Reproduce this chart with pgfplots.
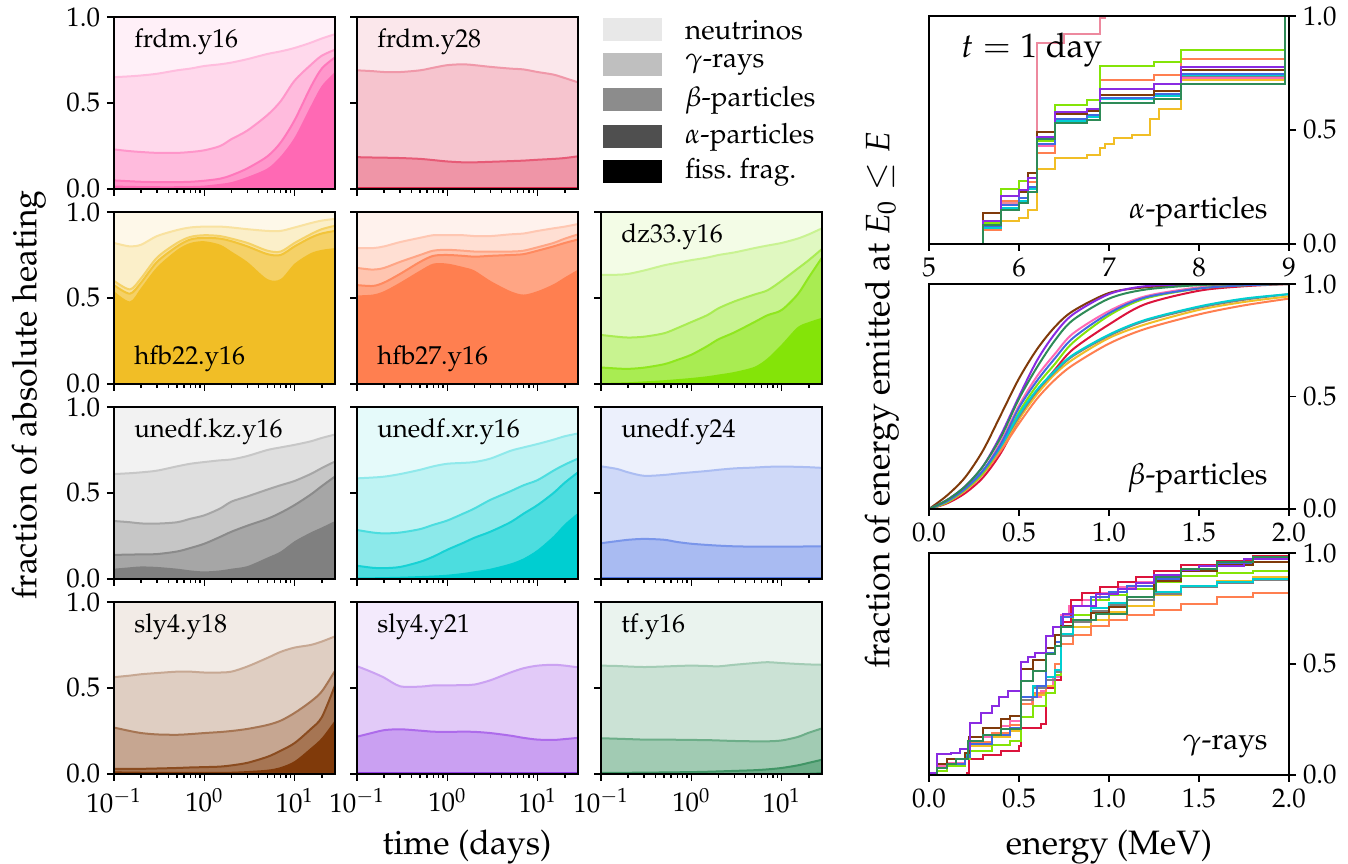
\documentclass[border=0pt]{standalone}
\usepackage[T1]{fontenc}
\usepackage{mathpazo}
\usepackage{pgfplots}
\usepackage{pgfplotstable}
\pgfplotsset{compat=1.18}

\definecolor{cA}{RGB}{255,105,180}
\definecolor{cB}{RGB}{220,20,60}
\definecolor{cC}{RGB}{241,190,38}
\definecolor{cD}{RGB}{255,127,80}
\definecolor{cE}{RGB}{132,228,8}
\definecolor{cF}{RGB}{128,128,128}
\definecolor{cG}{RGB}{0,206,209}
\definecolor{cH}{RGB}{65,105,225}
\definecolor{cI}{RGB}{128,58,10}
\definecolor{cJ}{RGB}{138,43,226}
\definecolor{cK}{RGB}{46,139,87}

\pgfplotstableread{
x c1 c2 c3 c4
0.1 0.02 0.05 0.23 0.65
0.15 0.018 0.045 0.22 0.655
0.2 0.017 0.042 0.215 0.66
0.3 0.016 0.04 0.21 0.67
0.5 0.016 0.04 0.21 0.69
0.7 0.017 0.042 0.215 0.70
1 0.02 0.048 0.225 0.715
1.5 0.03 0.06 0.25 0.725
2 0.04 0.08 0.29 0.735
3 0.07 0.12 0.34 0.755
5 0.12 0.19 0.43 0.785
7 0.19 0.27 0.51 0.80
10 0.30 0.40 0.63 0.82
15 0.48 0.59 0.72 0.85
20 0.60 0.70 0.775 0.875
28 0.68 0.765 0.81 0.90
}\tA
\pgfplotstableread{
x c1 c2 c3 c4
0.1 0 0.003 0.185 0.69
0.15 0 0.003 0.183 0.685
0.2 0 0.003 0.182 0.68
0.3 0 0.003 0.18 0.68
0.5 0 0.003 0.175 0.69
0.7 0 0.003 0.168 0.705
1 0 0.003 0.16 0.72
1.5 0 0.003 0.155 0.725
2 0 0.003 0.155 0.72
3 0 0.003 0.158 0.71
5 0 0.003 0.162 0.70
7 0 0.003 0.165 0.695
10 0 0.003 0.17 0.68
15 0 0.003 0.175 0.665
20 0 0.003 0.18 0.645
28 0 0.003 0.19 0.62
}\tB
\pgfplotstableread{
x c1 c2 c3 c4
0.1 0.54 0.575 0.60 0.82
0.15 0.48 0.525 0.55 0.80
0.2 0.56 0.59 0.615 0.81
0.3 0.68 0.71 0.735 0.86
0.5 0.78 0.80 0.82 0.895
0.7 0.82 0.84 0.855 0.91
1 0.83 0.85 0.865 0.915
1.5 0.81 0.845 0.86 0.915
2 0.77 0.83 0.845 0.91
3 0.71 0.80 0.82 0.90
5 0.61 0.755 0.775 0.89
7 0.61 0.75 0.77 0.89
10 0.70 0.80 0.82 0.91
15 0.76 0.85 0.87 0.935
20 0.78 0.875 0.90 0.95
28 0.79 0.89 0.92 0.96
}\tC
\pgfplotstableread{
x c1 c2 c3 c4
0.1 0.515 0.575 0.675 0.79
0.15 0.52 0.57 0.665 0.79
0.2 0.54 0.59 0.675 0.80
0.3 0.59 0.64 0.71 0.825
0.5 0.66 0.71 0.75 0.85
0.7 0.70 0.745 0.775 0.865
1 0.70 0.75 0.78 0.865
1.5 0.68 0.745 0.775 0.865
2 0.66 0.74 0.77 0.86
3 0.60 0.745 0.77 0.86
5 0.54 0.75 0.77 0.87
7 0.52 0.755 0.775 0.875
10 0.54 0.775 0.795 0.89
15 0.58 0.80 0.82 0.905
20 0.62 0.82 0.845 0.915
28 0.665 0.84 0.87 0.93
}\tD
\pgfplotstableread{
x c1 c2 c3 c4
0.1 0.006 0.096 0.285 0.635
0.15 0.008 0.09 0.275 0.635
0.2 0.01 0.088 0.27 0.64
0.3 0.015 0.095 0.275 0.66
0.5 0.022 0.115 0.295 0.69
0.7 0.028 0.14 0.325 0.705
1 0.035 0.17 0.36 0.72
1.5 0.045 0.22 0.40 0.735
2 0.055 0.26 0.44 0.75
3 0.07 0.30 0.48 0.765
5 0.10 0.36 0.52 0.79
7 0.15 0.40 0.545 0.805
10 0.23 0.43 0.60 0.82
15 0.33 0.52 0.67 0.845
20 0.36 0.62 0.72 0.87
28 0.385 0.735 0.785 0.905
}\tE
\pgfplotstableread{
x c1 c2 c3 c4
0.1 0.06 0.14 0.337 0.61
0.15 0.068 0.142 0.33 0.615
0.2 0.073 0.143 0.323 0.62
0.3 0.07 0.145 0.322 0.63
0.5 0.06 0.16 0.33 0.655
0.7 0.05 0.18 0.35 0.67
1 0.044 0.205 0.37 0.68
1.5 0.05 0.245 0.41 0.69
2 0.06 0.275 0.45 0.695
3 0.075 0.31 0.48 0.715
5 0.125 0.35 0.52 0.75
7 0.16 0.385 0.545 0.765
10 0.22 0.43 0.57 0.78
15 0.27 0.49 0.61 0.80
20 0.30 0.54 0.645 0.82
28 0.337 0.596 0.683 0.84
}\tF
\pgfplotstableread{
x c1 c2 c3 c4
0.1 0.01 0.077 0.285 0.585
0.15 0.01 0.065 0.27 0.59
0.2 0.011 0.063 0.265 0.595
0.3 0.013 0.07 0.27 0.61
0.5 0.017 0.10 0.29 0.635
0.7 0.02 0.13 0.315 0.655
1 0.025 0.17 0.34 0.67
1.5 0.035 0.21 0.38 0.675
2 0.045 0.24 0.41 0.68
3 0.06 0.275 0.46 0.70
5 0.09 0.33 0.51 0.745
7 0.12 0.38 0.545 0.765
10 0.17 0.43 0.575 0.785
15 0.25 0.50 0.63 0.81
20 0.32 0.56 0.665 0.83
28 0.385 0.62 0.70 0.846
}\tG
\pgfplotstableread{
x c1 c2 c3 c4
0.1 0 0.005 0.208 0.655
0.15 0 0.005 0.22 0.64
0.2 0 0.005 0.228 0.62
0.3 0 0.005 0.233 0.60
0.5 0 0.005 0.228 0.605
0.7 0 0.005 0.215 0.613
1 0 0.005 0.205 0.62
1.5 0 0.005 0.198 0.628
2 0 0.005 0.194 0.635
3 0 0.005 0.19 0.643
5 0 0.005 0.188 0.648
7 0 0.005 0.188 0.652
10 0 0.005 0.188 0.654
15 0 0.005 0.188 0.652
20 0 0.005 0.19 0.65
28 0 0.005 0.19 0.646
}\tH
\pgfplotstableread{
x c1 c2 c3 c4
0.1 0.015 0.03 0.27 0.563
0.15 0.014 0.03 0.25 0.572
0.2 0.013 0.03 0.238 0.58
0.3 0.012 0.032 0.23 0.587
0.5 0.012 0.035 0.228 0.595
0.7 0.012 0.038 0.232 0.595
1 0.012 0.04 0.238 0.59
1.5 0.012 0.043 0.244 0.59
2 0.013 0.05 0.25 0.595
3 0.017 0.065 0.262 0.625
5 0.025 0.10 0.285 0.675
7 0.04 0.135 0.31 0.71
10 0.075 0.18 0.355 0.735
15 0.15 0.26 0.42 0.75
20 0.21 0.33 0.48 0.77
28 0.313 0.515 0.60 0.80
}\tI
\pgfplotstableread{
x c1 c2 c3 c4
0.1 0 0.005 0.217 0.627
0.15 0 0.005 0.24 0.59
0.2 0 0.005 0.255 0.56
0.3 0 0.005 0.26 0.51
0.5 0 0.005 0.252 0.508
0.7 0 0.005 0.246 0.515
1 0 0.005 0.245 0.515
1.5 0 0.005 0.246 0.517
2 0 0.005 0.245 0.52
3 0 0.005 0.238 0.545
5 0 0.005 0.223 0.59
7 0 0.005 0.21 0.615
10 0 0.005 0.20 0.63
15 0 0.005 0.198 0.635
20 0 0.005 0.203 0.63
28 0 0.005 0.21 0.62
}\tJ
\pgfplotstableread{
x c1 c2 c3 c4
0.1 0.002 0.006 0.208 0.63
0.15 0.002 0.006 0.205 0.628
0.2 0.002 0.007 0.203 0.625
0.3 0.002 0.008 0.2 0.622
0.5 0.002 0.009 0.2 0.625
0.7 0.002 0.01 0.199 0.628
1 0.002 0.011 0.198 0.63
1.5 0.002 0.013 0.197 0.628
2 0.002 0.015 0.195 0.626
3 0.002 0.018 0.192 0.635
5 0.002 0.022 0.19 0.645
7 0.003 0.027 0.19 0.65
10 0.004 0.035 0.195 0.645
15 0.005 0.05 0.215 0.64
20 0.007 0.065 0.24 0.637
28 0.01 0.083 0.265 0.635
}\tK

\pgfplotstableread{
x A D E F G H I J K
5 0 0 0 0 0 0 0 0 0
5.6 0.075 0.06 0.09 0.07 0.07 0.08 0.135 0.10 0.085
5.8 0.18 0.19 0.24 0.17 0.16 0.17 0.21 0.21 0.15
6.0 0.20 0.20 0.275 0.19 0.19 0.20 0.23 0.235 0.18
6.1 0.24 0.27 0.31 0.24 0.24 0.25 0.31 0.29 0.23
6.2 0.43 0.40 0.45 0.44 0.44 0.44 0.49 0.47 0.46
6.4 0.545 0.55 0.61 0.54 0.54 0.55 0.57 0.58 0.53
6.75 0.56 0.56 0.63 0.555 0.555 0.565 0.585 0.59 0.545
6.9 0.64 0.72 0.78 0.635 0.635 0.64 0.655 0.68 0.62
7.5 0.655 0.74 0.80 0.65 0.65 0.66 0.67 0.70 0.635
7.8 0.73 0.81 0.85 0.735 0.74 0.745 0.765 0.775 0.70
8.95 1 1 1 1 1 1 1 1 1
9 1 1 1 1 1 1 1 1 1
}\tAlpha

\pgfplotstableread{
x A B C D E F G H I J K
0 0 0 0 0 0 0 0 0 0 0 0
0.1 0.035 0.025 0.03 0.03 0.03 0.035 0.035 0.035 0.06 0.04 0.04
0.2 0.09 0.07 0.085 0.08 0.085 0.09 0.09 0.09 0.14 0.10 0.10
0.3 0.17 0.14 0.16 0.155 0.16 0.17 0.17 0.17 0.26 0.19 0.19
0.4 0.30 0.25 0.27 0.26 0.28 0.28 0.28 0.29 0.42 0.33 0.32
0.5 0.46 0.40 0.40 0.38 0.43 0.41 0.42 0.45 0.58 0.50 0.49
0.6 0.59 0.52 0.51 0.49 0.55 0.525 0.53 0.57 0.71 0.66 0.63
0.7 0.69 0.62 0.60 0.575 0.645 0.61 0.615 0.67 0.81 0.78 0.75
0.8 0.78 0.71 0.665 0.64 0.74 0.68 0.685 0.76 0.88 0.865 0.84
1.0 0.88 0.82 0.76 0.735 0.86 0.77 0.775 0.87 0.96 0.955 0.935
1.2 0.945 0.91 0.82 0.80 0.935 0.835 0.84 0.94 0.985 0.99 0.975
1.5 0.985 0.97 0.885 0.865 0.98 0.895 0.90 0.98 0.997 0.999 0.995
1.75 0.996 0.99 0.92 0.905 0.994 0.93 0.935 0.994 1 1 1
2.0 1 1 0.945 0.935 1 0.955 0.955 1 1 1 1
}\tBeta

\newcommand{\layers}[2]{%
  \addplot[smooth, draw=none, fill=#1!25!white] table[x=x,y=c4]{#2} \closedcycle;
  \addplot[smooth, #1!44!white, line width=1bp] table[x=x,y=c4]{#2};
  \addplot[smooth, draw=none, fill=#1!45!white] table[x=x,y=c3]{#2} \closedcycle;
  \addplot[smooth, #1!70!white, line width=1bp] table[x=x,y=c3]{#2};
  \addplot[smooth, draw=none, fill=#1!70!white] table[x=x,y=c2]{#2} \closedcycle;
  \addplot[smooth, #1!91!white, line width=1bp] table[x=x,y=c2]{#2};
  \addplot[smooth, draw=none, fill=#1] table[x=x,y=c1]{#2} \closedcycle;
}

\pgfplotsset{
  myBase/.style={scale only axis, axis on top,
    axis line style={line width=1bp},
    every tick/.style={black, line width=0.8bp},
    tick align=outside, major tick length=3.5bp, minor tick length=2bp,
    tick label style={font=\fontsize{13.5}{15}\selectfont},
    yticklabel style={inner ysep=0.5bp},
  },
  myLeft/.style={myBase, width=110.5bp, height=86bp,
    xmin=0.1, xmax=28, ymin=0, ymax=1,
    xtick={0.1,1,10},
    minor xtick={0.2,0.3,0.4,0.5,0.6,0.7,0.8,0.9,2,3,4,5,6,7,8,9,20},
    ytick={0,0.5,1}, xtick pos=bottom, ytick pos=left,
    xticklabels={}, yticklabels={},
  },
  myYlab/.style={yticklabels={$0.0$,$0.5$,$1.0$}},
  myXlab/.style={xticklabels={$10^{-1}$,$10^{0}$,$10^{1}$}},
  myRight/.style={myBase, width=180bp, ymin=0, ymax=1,
    xtick pos=bottom, ytick pos=right, yticklabel pos=right,
    ytick={0,0.5,1}, yticklabels={$0.0$,$0.5$,$1.0$},
  },
  myEl/.style={xticklabels={$0.0$,$0.5$,$1.0$,$1.5$,$2.0$}},
  gl/.style={const plot, line width=1bp},
}

\newcommand{\lpanel}[6]{%
\begin{axis}[xmode=log, myLeft, at={(#1,#2)}, anchor=south west,
  axis background/.style={fill=#3!10!white}, #6]
  \layers{#3}{#4}
  #5
\end{axis}}

\newcommand{\plab}[1]{\node[anchor=west, font=\fontsize{13}{15}\selectfont] at (rel axis cs:0.06,0.855) {#1};}
\newcommand{\plabb}[1]{\node[anchor=west, font=\fontsize{13}{15}\selectfont] at (rel axis cs:0.06,0.145) {#1};}

\begin{document}
\begin{tikzpicture}
\lpanel{57bp}{337.5bp}{cA}{\tA}{\plab{frdm.y16}}{myYlab}
\lpanel{178.5bp}{337.5bp}{cB}{\tB}{\plab{frdm.y28}}{}
\lpanel{57bp}{240bp}{cC}{\tC}{\plabb{hfb22.y16}}{myYlab}
\lpanel{178.5bp}{240bp}{cD}{\tD}{\plabb{hfb27.y16}}{}
\lpanel{300.5bp}{240bp}{cE}{\tE}{\plab{dz33.y16}}{}
\lpanel{57bp}{142.5bp}{cF}{\tF}{\plab{unedf.kz.y16}}{myYlab}
\lpanel{178.5bp}{142.5bp}{cG}{\tG}{\plab{unedf.xr.y16}}{}
\lpanel{300.5bp}{142.5bp}{cH}{\tH}{\plab{unedf.y24}}{}
\lpanel{57bp}{45bp}{cI}{\tI}{\plab{sly4.y18}}{myYlab,myXlab}
\lpanel{178.5bp}{45bp}{cJ}{\tJ}{\plab{sly4.y21}}{myXlab}
\lpanel{300.5bp}{45bp}{cK}{\tK}{\plab{tf.y16}}{myXlab}

\begin{scope}[font=\fontsize{14}{16}\selectfont, every node/.style={inner ysep=0.5bp}]
\fill[black!9] (301.5bp,411.25bp) rectangle (331bp,422.75bp);
\node[anchor=west] at (339bp,417bp) {neutrinos};
\fill[black!25] (301.5bp,393.75bp) rectangle (331bp,405.25bp);
\node[anchor=west] at (339bp,399.5bp) {$\gamma$-rays};
\fill[black!45] (301.5bp,376.25bp) rectangle (331bp,387.75bp);
\node[anchor=west] at (339bp,382bp) {$\beta$-particles};
\fill[black!69] (301.5bp,357.75bp) rectangle (331bp,369.25bp);
\node[anchor=west] at (339bp,363.5bp) {$\alpha$-particles};
\fill[black] (301.5bp,340.25bp) rectangle (331bp,351.75bp);
\node[anchor=west] at (339bp,346bp) {fiss.\ frag.};
\end{scope}

\begin{axis}[myRight, at={(464.5bp,310bp)}, anchor=south west, height=114bp,
  xmin=5, xmax=9, xtick={5,6,7,8,9}]
  \addplot[gl, cA] table[x=x,y=A]{\tAlpha};
  \addplot[gl, cB!50!white] coordinates {(5,0)(5.6,0.08)(5.8,0.18)(6.0,0.2)(6.1,0.25)(6.2,0.88)(6.5,0.92)(6.9,0.99)(6.95,1)(9,1)};
  \addplot[gl, cC] coordinates {(5,0)(5.6,0.06)(5.8,0.10)(6.0,0.115)(6.1,0.15)(6.2,0.33)(6.4,0.375)(6.75,0.39)(6.9,0.42)(6.95,0.44)(7.05,0.465)(7.25,0.48)(7.45,0.55)(7.55,0.59)(7.8,0.72)(8.95,1)(9,1)};
  \addplot[gl, cD] table[x=x,y=D]{\tAlpha};
  \addplot[gl, cE] table[x=x,y=E]{\tAlpha};
  \addplot[gl, cF] table[x=x,y=F]{\tAlpha};
  \addplot[gl, cG] table[x=x,y=G]{\tAlpha};
  \addplot[gl, cH] table[x=x,y=H]{\tAlpha};
  \addplot[gl, cI] table[x=x,y=I]{\tAlpha};
  \addplot[gl, cJ] table[x=x,y=J]{\tAlpha};
  \addplot[gl, cK] table[x=x,y=K]{\tAlpha};
  \node[anchor=west, font=\fontsize{17}{20}\selectfont] at (rel axis cs:0.07,0.85) {$t = 1$ day};
  \node[anchor=east, font=\fontsize{15}{17}\selectfont] at (rel axis cs:0.96,0.14) {$\alpha$-particles};
\end{axis}

\begin{axis}[myRight, myEl, at={(464.5bp,177.5bp)}, anchor=south west, height=112.5bp,
  xmin=0, xmax=2, xtick={0,0.5,1,1.5,2}]
  \addplot[smooth, cA, line width=1bp] table[x=x,y=A]{\tBeta};
  \addplot[smooth, cB, line width=1bp] table[x=x,y=B]{\tBeta};
  \addplot[smooth, cC, line width=1bp] table[x=x,y=C]{\tBeta};
  \addplot[smooth, cD, line width=1bp] table[x=x,y=D]{\tBeta};
  \addplot[smooth, cE, line width=1bp] table[x=x,y=E]{\tBeta};
  \addplot[smooth, cF, line width=1bp] table[x=x,y=F]{\tBeta};
  \addplot[smooth, cG, line width=1bp] table[x=x,y=G]{\tBeta};
  \addplot[smooth, cH, line width=1bp] table[x=x,y=H]{\tBeta};
  \addplot[smooth, cI, line width=1bp] table[x=x,y=I]{\tBeta};
  \addplot[smooth, cJ, line width=1bp] table[x=x,y=J]{\tBeta};
  \addplot[smooth, cK, line width=1bp] table[x=x,y=K]{\tBeta};
  \node[anchor=east, font=\fontsize{15}{17}\selectfont] at (rel axis cs:0.96,0.14) {$\beta$-particles};
\end{axis}

\begin{axis}[myRight, myEl, at={(464.5bp,44.5bp)}, anchor=south west, height=111bp,
  xmin=0, xmax=2, xtick={0,0.5,1,1.5,2}]
  \addplot[gl, cA] coordinates {(0,0.01)(0.045,0.04)(0.1,0.055)(0.2,0.09)(0.23,0.13)(0.3,0.17)(0.4,0.22)(0.45,0.245)(0.51,0.32)(0.57,0.35)(0.62,0.38)(0.65,0.40)(0.69,0.44)(0.735,0.72)(0.78,0.76)(0.85,0.79)(0.95,0.82)(1.05,0.845)(1.15,0.87)(1.25,0.90)(1.4,0.93)(1.6,0.955)(1.8,0.975)(2,0.99)};
  \addplot[gl, cB] coordinates {(0,0)(0.21,0.01)(0.22,0.07)(0.3,0.09)(0.4,0.11)(0.5,0.13)(0.51,0.21)(0.62,0.23)(0.65,0.39)(0.7,0.43)(0.735,0.69)(0.79,0.79)(0.85,0.82)(0.95,0.845)(1.05,0.87)(1.15,0.89)(1.25,0.92)(1.4,0.945)(1.6,0.965)(1.8,0.985)(2,0.995)};
  \addplot[gl, cC] coordinates {(0,0)(0.045,0.02)(0.1,0.04)(0.2,0.07)(0.23,0.13)(0.35,0.17)(0.45,0.20)(0.51,0.32)(0.58,0.36)(0.65,0.40)(0.7,0.45)(0.735,0.59)(0.8,0.665)(0.9,0.70)(1.0,0.735)(1.1,0.76)(1.25,0.81)(1.4,0.85)(1.6,0.875)(1.8,0.89)(2,0.90)};
  \addplot[gl, cD] coordinates {(0,0.01)(0.045,0.05)(0.1,0.07)(0.2,0.10)(0.23,0.15)(0.35,0.19)(0.45,0.225)(0.51,0.32)(0.58,0.37)(0.65,0.43)(0.7,0.50)(0.735,0.59)(0.8,0.63)(0.9,0.67)(1.0,0.70)(1.1,0.72)(1.25,0.745)(1.4,0.77)(1.6,0.80)(1.8,0.82)(2,0.838)};
  \addplot[gl, cE] coordinates {(0,0)(0.045,0.02)(0.1,0.04)(0.2,0.07)(0.23,0.11)(0.35,0.135)(0.45,0.155)(0.51,0.26)(0.58,0.31)(0.65,0.37)(0.7,0.45)(0.735,0.635)(0.8,0.72)(0.9,0.79)(1.0,0.81)(1.1,0.84)(1.25,0.87)(1.4,0.895)(1.6,0.91)(1.8,0.92)(2,0.928)};
  \addplot[gl, cF] coordinates {(0,0.01)(0.045,0.03)(0.1,0.05)(0.2,0.09)(0.23,0.14)(0.35,0.18)(0.45,0.21)(0.51,0.34)(0.58,0.39)(0.65,0.43)(0.7,0.465)(0.735,0.625)(0.8,0.69)(0.9,0.74)(1.0,0.765)(1.1,0.79)(1.25,0.815)(1.4,0.845)(1.6,0.865)(1.8,0.88)(2,0.89)};
  \addplot[gl, cG] coordinates {(0,0.01)(0.045,0.03)(0.1,0.05)(0.2,0.09)(0.23,0.14)(0.35,0.18)(0.45,0.21)(0.51,0.35)(0.58,0.40)(0.65,0.44)(0.7,0.475)(0.735,0.635)(0.8,0.70)(0.9,0.75)(1.0,0.775)(1.1,0.80)(1.25,0.825)(1.4,0.85)(1.6,0.87)(1.8,0.885)(2,0.894)};
  \addplot[gl, cH] coordinates {(0,0.01)(0.045,0.03)(0.1,0.05)(0.2,0.08)(0.23,0.14)(0.35,0.18)(0.45,0.21)(0.51,0.35)(0.6,0.40)(0.65,0.55)(0.7,0.60)(0.735,0.71)(0.8,0.76)(0.9,0.80)(1.0,0.825)(1.1,0.85)(1.25,0.885)(1.4,0.925)(1.6,0.955)(1.8,0.975)(2,0.99)};
  \addplot[gl, cI] coordinates {(0,0.01)(0.045,0.05)(0.1,0.07)(0.2,0.10)(0.22,0.17)(0.3,0.21)(0.4,0.25)(0.45,0.265)(0.51,0.476)(0.58,0.52)(0.65,0.574)(0.7,0.63)(0.735,0.67)(0.8,0.70)(0.9,0.73)(1.0,0.755)(1.1,0.80)(1.25,0.875)(1.4,0.92)(1.6,0.945)(1.8,0.96)(2,0.973)};
  \addplot[gl, cJ] coordinates {(0,0.01)(0.047,0.093)(0.12,0.10)(0.17,0.116)(0.226,0.236)(0.29,0.28)(0.35,0.31)(0.39,0.35)(0.44,0.38)(0.51,0.51)(0.55,0.53)(0.59,0.55)(0.65,0.627)(0.69,0.665)(0.745,0.725)(0.8,0.76)(0.93,0.815)(1.05,0.84)(1.15,0.865)(1.25,0.90)(1.4,0.925)(1.5,0.943)(1.75,0.975)(2,0.995)};
  \addplot[gl, cK] coordinates {(0,0)(0.047,0.033)(0.1,0.05)(0.15,0.07)(0.217,0.153)(0.3,0.18)(0.4,0.205)(0.51,0.424)(0.58,0.47)(0.65,0.545)(0.7,0.58)(0.736,0.665)(0.8,0.70)(0.93,0.725)(1.1,0.80)(1.25,0.83)(1.26,0.893)(1.4,0.93)(1.6,0.96)(1.8,0.98)(2,0.988)};
  \node[anchor=east, font=\fontsize{15}{17}\selectfont] at (rel axis cs:0.96,0.13) {$\gamma$-rays};
\end{axis}

\node[rotate=90, font=\fontsize{17}{19}\selectfont] at (14.5bp,234.5bp) {fraction of absolute heating};
\node[font=\fontsize{17}{19}\selectfont] at (233.5bp,8.5bp) {time (days)};
\node[font=\fontsize{17}{19}\selectfont] at (554.5bp,8.5bp) {energy (MeV)};
\node[rotate=90, font=\fontsize{17}{19}\selectfont] at (441bp,232bp) {fraction of energy emitted at $E_0 \leq E$};

\pgfresetboundingbox
\useasboundingbox (0,0) rectangle (674bp,432bp);
\end{tikzpicture}
\end{document}
